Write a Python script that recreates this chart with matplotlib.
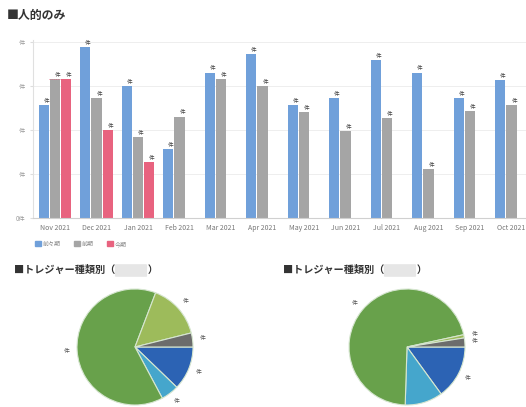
import matplotlib
matplotlib.use('Agg')
import matplotlib.pyplot as plt
import numpy as np
from matplotlib.patches import FancyBboxPatch, Patch

plt.rcParams['font.family'] = ['Noto Sans CJK JP', 'DejaVu Sans']

# bar chart data (grid unit = one "件" step)
months = ['Nov 2021', 'Dec 2021', 'Jan 2021', 'Feb 2021', 'Mar 2021', 'Apr 2021',
          'May 2021', 'Jun 2021', 'Jul 2021', 'Aug 2021', 'Sep 2021', 'Oct 2021']
prev2 = [2.57, 3.89, 3.0, 1.57, 3.3, 3.73, 2.57, 2.73, 3.59, 3.3, 2.73, 3.14]
prev1 = [3.16, 2.73, 1.84, 2.3, 3.16, 3.0, 2.41, 1.98, 2.27, 1.11, 2.43, 2.57]
curr = [3.16, 2.0, 1.27]
series_names = ['前々期', '前期', '今期']
ytick_labels = ['0件', '件', '件', '件', '件']

# pie data (percent, clockwise from 3 o'clock)
pie_colors = ['#2c63b4', '#45a6cc', '#68a14b', '#9dbb5b', '#6c6c6c']
pie_left = [12.2, 5.0, 63.6, 15.3, 3.9]
pie_right = [15.0, 10.5, 71.1, 0.9, 2.5]

W, H = 526, 407
fig = plt.figure(figsize=(W / 100, H / 100), dpi=100)
fig.patch.set_facecolor('white')

def fx(px):
    return px / W

def fy(py):
    return 1 - py / H

c_blue, c_gray, c_pink = '#70a0da', '#a5a5a5', '#e8637f'

# --- bar chart ---
ax = fig.add_axes([fx(33), fy(218), 1 - fx(33), fy(39.8) - fy(218)])
x = np.arange(len(months))
w = 0.25
gap = 0.27
b1 = ax.bar(x - gap, prev2, w, color=c_blue, label=series_names[0])
b2 = ax.bar(x, prev1, w, color=c_gray, label=series_names[1])
b3 = ax.bar(x[:len(curr)] + gap, curr, w, color=c_pink, label=series_names[2])
for bars in (b1, b2, b3):
    for r in bars:
        ax.text(r.get_x() + r.get_width() * 0.75, r.get_height() + 0.03, '件',
                fontsize=4, color='#444444', ha='center', va='bottom')
ax.hlines(curr[0], x[0] - 0.15, x[0] + gap + 0.12, colors=c_pink,
          linestyles=':', linewidth=0.6)

ax.set_xlim(-0.53, 11.35)
ax.set_ylim(0, 4.05)
ax.set_yticks(range(5))
ax.set_yticklabels(ytick_labels)
ax.set_xticks(x)
ax.set_xticklabels(months)
ax.tick_params(axis='y', labelsize=4.5, colors='#999999', length=2, color='#dddddd')
ax.tick_params(axis='x', labelsize=5.0, colors='#777777', length=0, pad=4)
ax.grid(axis='y', color='#eeeeee', linewidth=0.7)
ax.set_axisbelow(True)
for s in ['top', 'right']:
    ax.spines[s].set_visible(False)
ax.spines['left'].set_color('#e0e0e0')
ax.spines['bottom'].set_color('#d0d0d0')

handles = [Patch(color=c) for c in (c_blue, c_gray, c_pink)]
leg = fig.legend(handles, series_names, loc='center left',
                 bbox_to_anchor=(fx(30), fy(244)), ncol=3, frameon=False,
                 fontsize=4.3, handlelength=0.9, handleheight=0.9,
                 handletextpad=0.4, columnspacing=2.2)
for t in leg.get_texts():
    t.set_color('#888888')

# --- titles ---
fig.text(fx(7), fy(16), '■人的のみ', fontsize=8.6, fontweight='bold',
         color='#333333', va='center', ha='left')

for x0, bx in ((14, 116), (283, 385)):
    fig.text(fx(x0), fy(270), '■トレジャー種類別（　　　 ）', fontsize=7.3,
             fontweight='bold', color='#333333', va='center', ha='left')
    fig.patches.append(FancyBboxPatch((fx(bx), fy(276)), fx(30), fy(265) - fy(276),
                                      boxstyle='round,pad=0.002', transform=fig.transFigure,
                                      facecolor='#e6e6e6', edgecolor='none'))

# --- pies ---
for cx, vals in ((135, pie_left), (407, pie_right)):
    pax = fig.add_axes([fx(cx - 58), fy(347 + 58), fx(116), fy(347 - 58) - fy(347 + 58)])
    pax.pie(vals, colors=pie_colors, startangle=0, counterclock=False,
            labels=['件'] * len(vals), labeldistance=1.18,
            textprops={'fontsize': 4.2, 'color': '#555555', 'ha': 'center', 'va': 'center'},
            wedgeprops={'edgecolor': '#d6e6d0', 'linewidth': 0.8})
    pax.set_xlim(-1, 1)
    pax.set_ylim(-1, 1)
    pax.set_aspect('equal')
    pax.axis('off')

fig.savefig('out.png', dpi=100)
